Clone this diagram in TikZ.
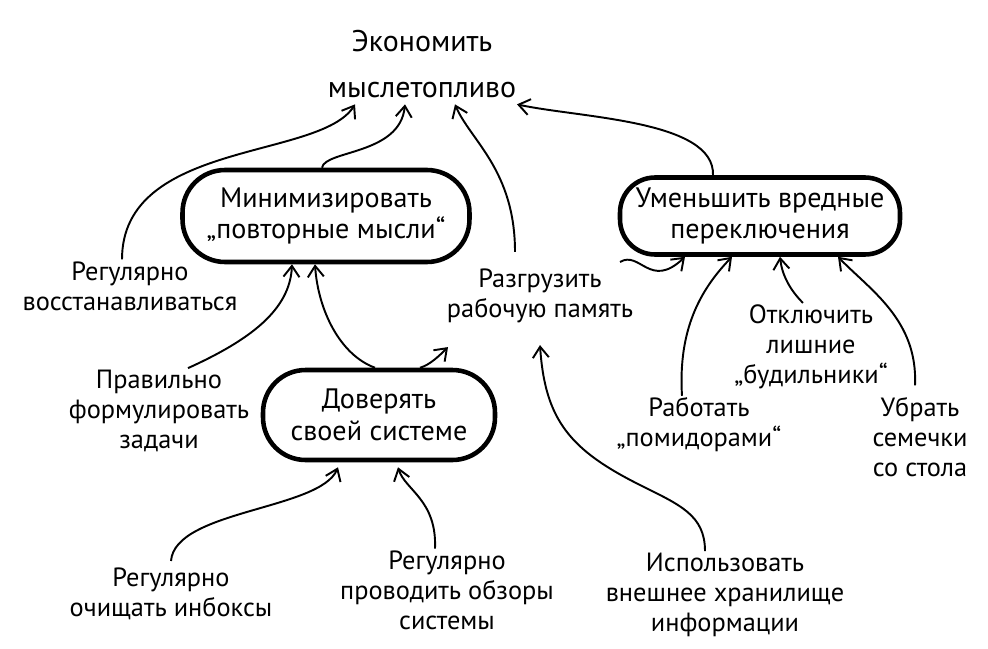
\documentclass[tikz,border=0pt]{standalone}
\usepackage{fontspec}
\setmainfont{PT Sans}
\usetikzlibrary{arrows.meta}

\begin{document}
\begin{tikzpicture}[
                x=0.02cm, y=-0.02cm,
                >={Straight Barb[length=2.2mm, width=3.2mm]},
                idea/.style={align=center, font=\fontsize{15}{17}\selectfont, inner sep=1pt},
                goaltext/.style={align=center, font=\fontsize{17}{26}\selectfont, inner sep=0pt, minimum height=1.6cm},
                blob/.style={draw, line width=2.6pt, rounded corners=0.85cm, align=center, font=\fontsize{16}{18}\selectfont, inner sep=0pt},
                link/.style={draw, ->, line width=1.1pt}
            ]
                \useasboundingbox (0,0) rectangle (988,649);

                % --- ZIEL ---
                \node[goaltext] (goal) at (422,64) {Экономить\\мыслетопливо};

                % --- BLASEN ---
                \node[blob, minimum width=5.74cm, minimum height=1.84cm] (mini) at (326,216) {Минимизировать\\„повторные мысли“};
                \node[blob, minimum width=5.6cm, minimum height=1.54cm, rounded corners=0.7cm] (reduce) at (760,216) {Уменьшить вредные\\переключения};
                \node[blob, minimum width=4.64cm, minimum height=1.8cm] (trust) at (379,415) {Доверять\\своей системе};

                % --- TEXTE ---
                \node[idea] (rest) at (130,286) {Регулярно\\восстанавливаться};
                \node[idea] (unload) at (540,296) {Разгрузить\\рабочую память};
                \node[idea] (form) at (159,411) {Правильно\\формулировать\\задачи};
                \node[idea] (alarm) at (811,347) {Отключить\\лишние\\„будильники“};
                \node[idea] (work) at (699,425) {Работать\\„помидорами“};
                \node[idea] (seeds) at (920,437) {Убрать\\семечки\\со стола};
                \node[idea] (inbox) at (171,594) {Регулярно\\очищать инбоксы};
                \node[idea] (review) at (447,590) {Регулярно\\проводить обзоры\\системы};
                \node[idea] (store) at (725,595) {Использовать\\внешнее хранилище\\информации};
                \coordinate (wave) at (620,262);

                % --- VERBINDUNGEN ---
                \draw[link] ([xshift=-0.16cm]rest.north) .. controls (122,140) and (320,160) .. ([xshift=-1.34cm]goal.south);
                \draw[link] ([xshift=-0.08cm]mini.north) .. controls (325,150) and (400,155) .. ([xshift=-0.34cm]goal.south);
                \draw[link] ([xshift=-0.5cm, yshift=0.3cm]unload.north) .. controls (515,170) and (470,140) .. ([xshift=0.66cm]goal.south);
                \draw[link] ([xshift=-0.94cm]reduce.north) .. controls (715,120) and (580,118) .. ([xshift=1.9cm]goal.south);
                \draw[link] ([xshift=0.58cm]form.north) .. controls (250,340) and (290,310) .. ([xshift=-0.68cm]mini.south);
                \draw[link] ([xshift=-0.08cm]trust.north) .. controls (340,355) and (318,310) .. ([xshift=-0.22cm]mini.south);
                \draw[link] ([xshift=0.82cm]trust.north) .. controls (430,365) and (440,355) .. ([xshift=-1.84cm, yshift=-0.44cm]unload.south);
                \draw[link] (wave) .. controls (640,250) and (650,290) .. ([xshift=-1.5cm]reduce.south);
                \draw[link] ([xshift=-0.34cm]work.north) .. controls (678,330) and (700,290) .. ([xshift=-0.56cm]reduce.south);
                \draw[link] ([xshift=-0.16cm]alarm.north) .. controls (790,290) and (782,275) .. ([xshift=0.4cm]reduce.south);
                \draw[link] ([xshift=-0.1cm, yshift=0.2cm]seeds.north) .. controls (918,320) and (870,290) .. ([xshift=1.56cm]reduce.south);
                \draw[link] ([yshift=0.1cm]inbox.north) .. controls (175,510) and (320,510) .. ([xshift=-0.82cm, yshift=-0.1cm]trust.south);
                \draw[link] ([xshift=-0.24cm]review.north) .. controls (437,500) and (405,490) .. ([xshift=0.38cm, yshift=-0.1cm]trust.south);
                \draw[link] ([xshift=-0.4cm]store.north) .. controls (705,515) and (680,505) .. (640,485) .. controls (570,450) and (545,420) .. ([yshift=-0.4cm]unload.south);

            \end{tikzpicture}
\end{document}
